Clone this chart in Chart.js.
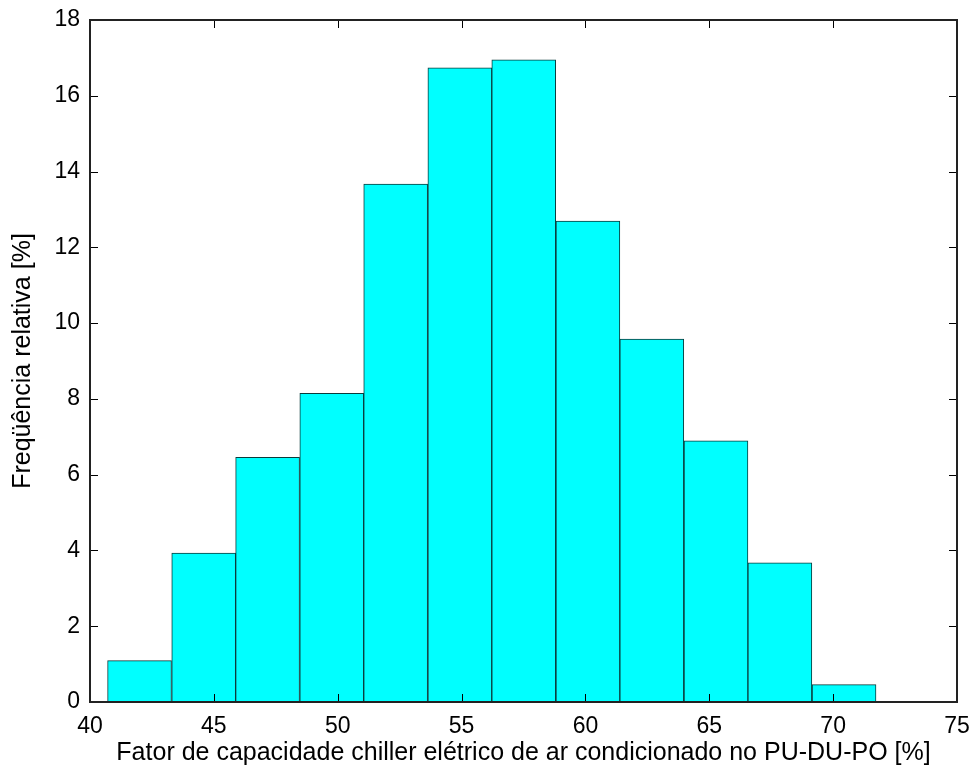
<!DOCTYPE html>
<html>
<head>
<meta charset="utf-8">
<script src="https://cdn.jsdelivr.net/npm/chart.js@4.4.1/dist/chart.umd.min.js"></script>
<style>
    html, body { margin: 0; padding: 0; background: #fff; }
    #wrap { width: 976px; height: 778px; }
</style>
</head>
<body>
<div id="wrap"><canvas id="histChart"></canvas></div>
<script>
// centros das classes do histograma (largura ~2.585)
const centros = [42.0, 44.59, 47.17, 49.76, 52.34, 54.93, 57.51, 60.10, 62.68, 65.27, 67.85, 70.44];
const frequencias = [1.09, 3.93, 6.46, 8.15, 13.67, 16.74, 16.95, 12.69, 9.58, 6.89, 3.67, 0.46];
const ticksX = [40, 45, 50, 55, 60, 65, 70, 75];
const ticksY = [0, 2, 4, 6, 8, 10, 12, 14, 16, 18];

const fonteTicks = { family: "'Liberation Sans', Arial, sans-serif", size: 23 };
const fonteTitulo = { family: "'Liberation Sans', Arial, sans-serif", size: 25 };

// moldura estilo MATLAB com marcas para dentro
const molduraPlugin = {
    id: 'moldura',
    afterDraw(chart) {
        const ctx = chart.ctx;
        const a = chart.chartArea;
        const sx = chart.scales.x, sy = chart.scales.y;
        ctx.save();
        ctx.strokeStyle = '#000';
        ctx.lineWidth = 1;
        ctx.beginPath();
        ticksX.forEach(v => {
            const px = Math.round(sx.getPixelForValue(v)) + 0.5;
            ctx.moveTo(px, a.bottom); ctx.lineTo(px, a.bottom - 8);
            ctx.moveTo(px, a.top); ctx.lineTo(px, a.top + 8);
        });
        ticksY.forEach(v => {
            const py = Math.round(sy.getPixelForValue(v)) + 0.5;
            ctx.moveTo(a.left, py); ctx.lineTo(a.left + 8, py);
            ctx.moveTo(a.right, py); ctx.lineTo(a.right - 8, py);
        });
        ctx.stroke();
        ctx.lineWidth = 2;
        ctx.strokeStyle = '#222';
        ctx.strokeRect(a.left, a.top, a.right - a.left, a.bottom - a.top);
        ctx.restore();
    }
};

const config = {
    type: 'bar',
    data: {
        datasets: [{
            data: centros.map((c, i) => ({ x: c, y: frequencias[i] })),
            backgroundColor: '#00ffff',
            borderColor: '#0b3b3b',
            borderWidth: 1,
            barPercentage: 1,
            categoryPercentage: 1
        }]
    },
    options: {
        responsive: true,
        maintainAspectRatio: false,
        animation: false,
        layout: { padding: { left: 0, top: 20, right: 19, bottom: 0 } },
        plugins: { legend: { display: false }, tooltip: { enabled: false } },
        scales: {
            x: {
                type: 'linear',
                min: 40,
                max: 75,
                offset: false,
                grid: { display: false, offset: false },
                border: { display: false },
                afterBuildTicks: s => { s.ticks = ticksX.map(v => ({ value: v })); },
                afterFit: s => { s.height = 76; },
                ticks: { color: '#000', font: fonteTicks, padding: 3, maxRotation: 0 },
                title: {
                    display: true,
                    text: 'Fator de capacidade chiller elétrico de ar condicionado no PU-DU-PO [%]',
                    color: '#000',
                    font: fonteTitulo,
                    padding: { top: 0, bottom: 10 }
                }
            },
            y: {
                min: 0,
                max: 18,
                grid: { display: false },
                border: { display: false },
                afterBuildTicks: s => { s.ticks = ticksY.map(v => ({ value: v })); },
                afterFit: s => { s.width = 90; },
                ticks: { color: '#000', font: fonteTicks, padding: 2 },
                title: {
                    display: true,
                    text: 'Freqüência relativa [%]',
                    color: '#000',
                    font: fonteTitulo,
                    padding: { top: 8, bottom: 0 }
                }
            }
        }
    },
    plugins: [molduraPlugin]
};

var histChart = new Chart(document.getElementById('histChart'), config);
</script>
</body>
</html>
